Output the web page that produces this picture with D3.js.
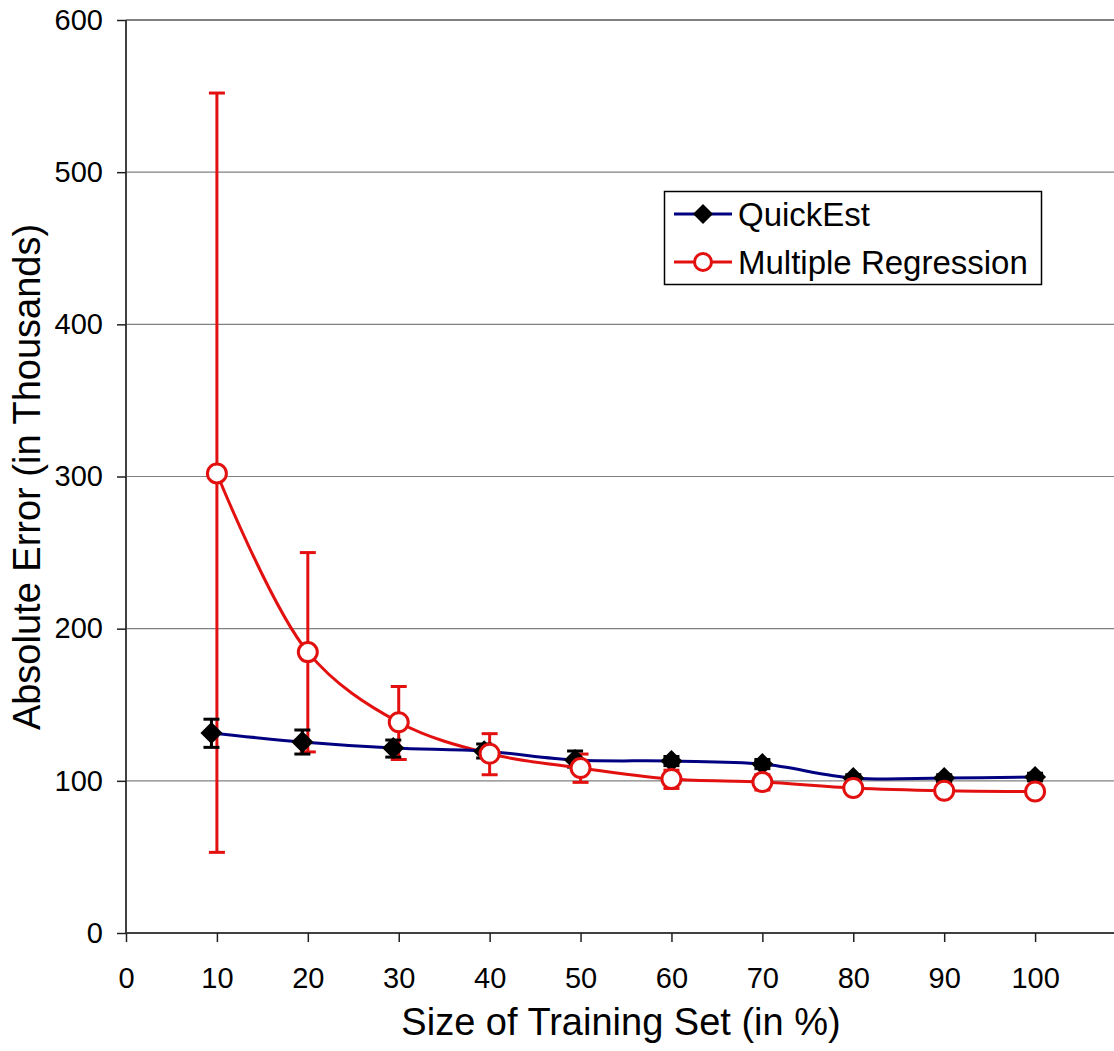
<!DOCTYPE html>
<html><head><meta charset="utf-8">
<script src="https://cdn.jsdelivr.net/npm/d3@7"></script>
<style>body{margin:0;background:#fff}svg{display:block;font-family:"Liberation Sans",Arial,sans-serif}</style>
</head><body>
<svg id="c" width="1114" height="1051"></svg>
<script>
const xTicks = [0,10,20,30,40,50,60,70,80,90,100];
const yTicks = [0,100,200,300,400,500,600];
const quickX = [9.4,19.4,29.4,39.4,49.4,60,70,80,90,100];
const quickY = [131.5,125.5,121.5,119.5,113.7,113,111,101.8,101.8,102.5];
const quickLo = [122,117.6,115.6,115,109,110,108,99.5,99.5,100];
const quickHi = [140.5,133.4,126.8,124.2,119.6,116,114,104,104,105];
const regX = [10,20,30,40,50,60,70,80,90,100];
const regY = [302,184.6,138.5,117.8,108.4,101.2,99.2,95.3,93.5,93];
const regLo = [53,119,114,104,99,95,94,93,91.5,91];
const regHi = [552,250,162,131,117.6,107,104,97.5,95.5,95];
const seriesNames = ["QuickEst","Multiple Regression"];

const svg = d3.select("#c");
const x = d3.scaleLinear().domain([0,110]).range([126,1126]);
const y = d3.scaleLinear().domain([0,600]).range([933,20]);

// gridlines
svg.append("g").selectAll("line").data(yTicks.filter(d=>d>0)).join("line")
  .attr("x1",126).attr("x2",1126).attr("y1",d=>y(d)).attr("y2",d=>y(d))
  .attr("stroke","#808080").attr("stroke-width",d=>d===600?2:1.2);

// axes
const yAxis = svg.append("g").attr("transform","translate(126,0)")
  .call(d3.axisLeft(y).tickValues(yTicks).tickSize(9).tickPadding(14));
const xAxis = svg.append("g").attr("transform","translate(0,933)")
  .call(d3.axisBottom(x).tickValues(xTicks).tickSize(9).tickPadding(25));
[yAxis,xAxis].forEach(a=>{
  a.select(".domain").attr("stroke","#404040").attr("stroke-width",2);
  a.selectAll(".tick line").attr("stroke","#202020").attr("stroke-width",1.5);
  a.selectAll("text").attr("font-size",29).attr("fill","#000").attr("font-family","Liberation Sans, Arial, sans-serif");
});
xAxis.select(".domain").attr("d","M126,0H1126");
yAxis.select(".domain").attr("d","M0,933V20");

// titles
svg.append("text").attr("x",621).attr("y",1035).attr("text-anchor","middle")
  .attr("font-size",38).text("Size of Training Set (in %)");
svg.append("text").attr("transform","translate(40,477) rotate(-90)").attr("text-anchor","middle")
  .attr("font-size",38).text("Absolute Error (in Thousands)");

const line = d3.line().curve(d3.curveCatmullRom.alpha(0.5));

// error bars
function errBars(xs,lo,hi,color,cap){
  const g = svg.append("g").attr("stroke",color).attr("stroke-width",3);
  xs.forEach((xv,i)=>{
    const cx = x(xv);
    g.append("line").attr("x1",cx).attr("x2",cx).attr("y1",y(lo[i])).attr("y2",y(hi[i]));
    g.append("line").attr("x1",cx-cap).attr("x2",cx+cap).attr("y1",y(lo[i])).attr("y2",y(lo[i]));
    g.append("line").attr("x1",cx-cap).attr("x2",cx+cap).attr("y1",y(hi[i])).attr("y2",y(hi[i]));
  });
}
errBars(regX,regLo,regHi,"#e31010",8);
errBars(quickX,quickLo,quickHi,"#000",8);

// lines
svg.append("path").attr("d",line(regX.map((v,i)=>[x(v),y(regY[i])])))
  .attr("fill","none").attr("stroke","#e31010").attr("stroke-width",3);
svg.append("path").attr("d",line(quickX.map((v,i)=>[x(v),y(quickY[i])])))
  .attr("fill","none").attr("stroke","#000080").attr("stroke-width",3);

// markers
const diamond = (cx,cy,r)=>`M${cx},${cy-r}L${cx+r},${cy}L${cx},${cy+r}L${cx-r},${cy}Z`;
svg.append("g").selectAll("path").data(quickX).join("path")
  .attr("d",(d,i)=>diamond(x(d),y(quickY[i]),11)).attr("fill","#000");
svg.append("g").selectAll("circle").data(regX).join("circle")
  .attr("cx",d=>x(d)).attr("cy",(d,i)=>y(regY[i])).attr("r",9.5)
  .attr("fill","#fff").attr("stroke","#e31010").attr("stroke-width",3);

// legend
const lg = svg.append("g");
lg.append("rect").attr("x",664.5).attr("y",191.5).attr("width",377).attr("height",93)
  .attr("fill","#fff").attr("stroke","#000").attr("stroke-width",1.5);
const rows = [{name:seriesNames[0],color:"#000080",yy:214},{name:seriesNames[1],color:"#e31010",yy:262}];
rows.forEach((r,i)=>{
  lg.append("line").attr("x1",674).attr("x2",732).attr("y1",r.yy).attr("y2",r.yy)
    .attr("stroke",r.color).attr("stroke-width",3);
  if(i===0) lg.append("path").attr("d",diamond(703,r.yy,10)).attr("fill","#000");
  else lg.append("circle").attr("cx",703).attr("cy",r.yy).attr("r",8.5).attr("fill","#fff").attr("stroke",r.color).attr("stroke-width",3);
  lg.append("text").attr("x",738).attr("y",r.yy+12).attr("font-size",33).text(r.name);
});
</script>
</body></html>
